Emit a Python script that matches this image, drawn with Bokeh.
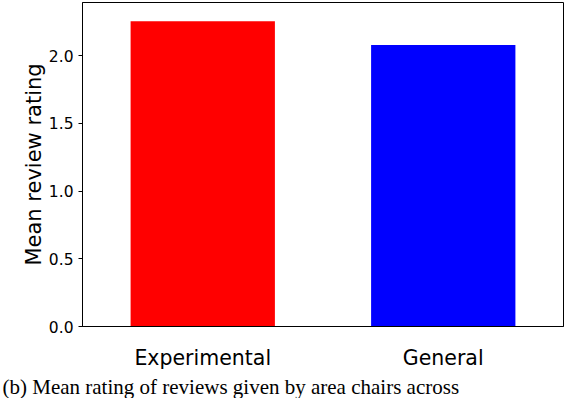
from bokeh.plotting import figure
from bokeh.models import Range1d, FactorRange, FixedTicker, PrintfTickFormatter, Title
from bokeh.embed import file_html
from bokeh.resources import INLINE

# Data
categories = ["Experimental", "General"]
mean_ratings = [2.255, 2.08]
bar_colors = ["#ff0000", "#0000ff"]
y_ticks = [0.0, 0.5, 1.0, 1.5, 2.0]
y_label = "Mean review rating"
caption = "(b) Mean rating of reviews given by area chairs across"

p = figure(
    width=570, height=398,
    x_range=FactorRange(*categories, range_padding=0),
    y_range=Range1d(0, 2.394),
    output_backend="svg", toolbar_location=None,
    min_border_left=82, min_border_right=7,
    min_border_top=2, min_border_bottom=68,
)

p.vbar(x=categories, top=mean_ratings, width=0.6, fill_color=bar_colors,
       line_color=None)

p.xgrid.visible = False
p.ygrid.visible = False
p.outline_line_color = "black"
p.outline_line_width = 1
p.outline_line_alpha = 1.0
p.background_fill_color = "white"
p.border_fill_color = "white"

# y axis
ya = p.yaxis[0]
ya.ticker = FixedTicker(ticks=y_ticks)
ya.formatter = PrintfTickFormatter(format="%.1f")
ya.major_tick_out = 4
ya.major_tick_in = 0
ya.minor_tick_out = 0
ya.minor_tick_in = 0
ya.major_label_standoff = 5
ya.major_label_text_font = "DejaVu Sans"
ya.major_label_text_font_size = "15.5px"
ya.major_label_text_color = "black"
ya.axis_label = y_label
ya.axis_label_text_font = "DejaVu Sans"
ya.axis_label_text_font_size = "21px"
ya.axis_label_text_font_style = "normal"
ya.axis_label_text_color = "black"
ya.axis_label_standoff = 0
ya.axis_line_color = "black"
ya.major_tick_line_color = "black"

# x axis
xa = p.xaxis[0]
xa.major_tick_out = 0
xa.major_tick_in = 0
xa.minor_tick_out = 0
xa.minor_tick_in = 0
xa.major_label_standoff = 19
xa.major_label_text_font = "DejaVu Sans"
xa.major_label_text_font_size = "20.5px"
xa.major_label_text_color = "black"
xa.axis_line_color = "black"

# caption below the axis
cap = Title(text=caption, text_font="Liberation Serif", text_font_size="21px",
            text_font_style="normal", text_color="black", align="left",
            standoff=0, offset=-80)
p.add_layout(cap, "below")

open("out.html", "w").write(file_html(p, INLINE))
